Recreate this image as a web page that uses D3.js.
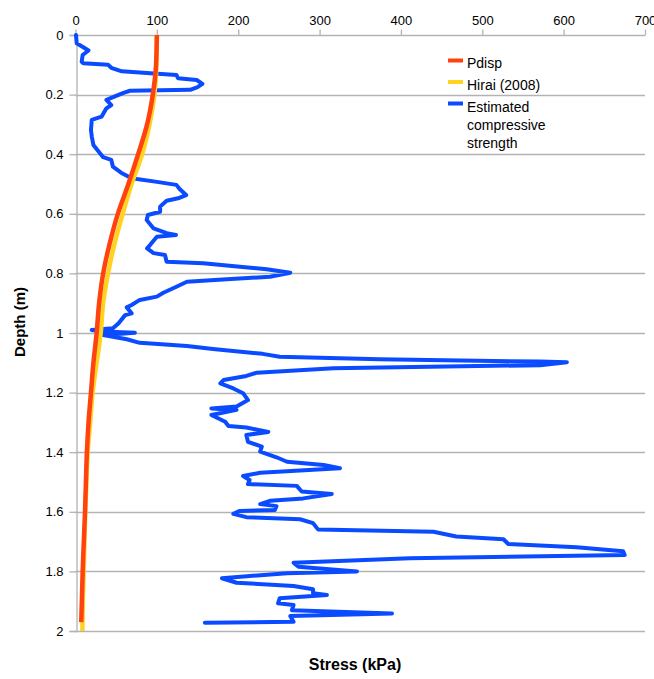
<!DOCTYPE html>
<html>
<head>
<meta charset="utf-8">
<script src="https://cdn.jsdelivr.net/npm/d3@7"></script>
<style>
  html, body { margin: 0; padding: 0; background: #fff; }
  text { font-family: "Liberation Sans", Arial, sans-serif; }
</style>
</head>
<body>
<svg id="chart" width="654" height="679"></svg>
<script>
// Depth profile of stress (kPa) against depth (m)
const xTicks = [0, 100, 200, 300, 400, 500, 600, 700];
const yTicks = [0, 0.2, 0.4, 0.6, 0.8, 1, 1.2, 1.4, 1.6, 1.8, 2];

const pdispDepth = [0, 0.1, 0.2, 0.3, 0.4, 0.5, 0.6, 0.7, 0.8, 0.9, 1.0, 1.1, 1.2, 1.3, 1.4, 1.5, 1.6, 1.7, 1.8, 1.9, 1.97];
const pdispValue = [100, 99, 95, 88, 77, 65, 52, 42, 34, 29, 26, 22, 19, 16, 14, 12.8, 11.7, 10.2, 8.8, 7.8, 7];

const hiraiDepth = [0, 0.1, 0.2, 0.3, 0.4, 0.5, 0.6, 0.7, 0.8, 0.9, 1.0, 1.1, 1.2, 1.3, 1.4, 1.5, 1.6, 1.7, 1.8, 1.9, 2.0];
const hiraiValue = [100, 99.5, 97, 91, 82, 69, 58, 48, 40, 34, 31, 26, 21, 18, 15, 13.5, 12, 11, 10, 9, 8.5];

const strengthDepth = [
  0, 0.028, 0.041, 0.052, 0.067, 0.09, 0.095, 0.1, 0.11, 0.122, 0.128, 0.134, 0.145, 0.151, 0.164, 0.175, 0.184, 0.187,
  0.194, 0.201, 0.218, 0.235, 0.246, 0.274, 0.285, 0.319, 0.341, 0.369, 0.41, 0.419, 0.442, 0.462, 0.481, 0.492, 0.503, 0.517,
  0.537, 0.548, 0.556, 0.576, 0.593, 0.604, 0.621, 0.649, 0.665, 0.671, 0.677, 0.705, 0.716, 0.732, 0.738, 0.761,
  0.766, 0.778, 0.786, 0.798, 0.811, 0.82, 0.828, 0.845, 0.865, 0.878, 0.889, 0.906, 0.914, 0.934, 0.94, 0.967,
  0.984, 0.99, 0.995, 0.999, 1.007, 1.021, 1.033, 1.044, 1.054, 1.07, 1.08, 1.088, 1.096, 1.098, 1.108, 1.118,
  1.133, 1.144, 1.158, 1.169, 1.186, 1.202, 1.225, 1.247, 1.253, 1.258, 1.275, 1.298, 1.312, 1.317, 1.332, 1.342,
  1.365, 1.381, 1.398, 1.417, 1.432, 1.443, 1.454, 1.469, 1.48, 1.493, 1.507, 1.513, 1.532, 1.54, 1.555, 1.563,
  1.574, 1.581, 1.594, 1.597, 1.607, 1.618, 1.625, 1.638, 1.659, 1.667, 1.683, 1.692, 1.708, 1.719, 1.732, 1.745,
  1.756, 1.771, 1.784, 1.8, 1.806, 1.823, 1.838, 1.849, 1.86, 1.873, 1.879, 1.89, 1.907, 1.913, 1.93, 1.941,
  1.95, 1.969, 1.972
];
const strengthValue = [
  0.6, 1.5, 9.6, 16, 8.8, 7.6, 9.6, 40, 44, 57, 92, 124, 126, 149, 156, 150, 141, 67,
  59, 53, 38, 44, 38, 32, 20, 19, 20, 22, 34, 44, 46, 56, 69, 98, 124, 128,
  136, 126, 112, 104, 104, 89, 87.5, 96, 112, 123.5, 100, 91.6, 88, 96, 110, 112,
  157, 202, 235, 264, 239, 186, 137, 124, 108, 100, 79, 69, 63, 69, 61, 53,
  46, 20, 34, 73, 34, 63, 79, 137, 169, 230, 251, 374, 571, 604, 571, 317,
  223, 210, 182, 178, 194, 206, 212, 198, 167, 198, 167, 184, 188, 210, 237, 210,
  212, 229, 227, 247, 260, 305, 325, 227, 206, 214, 212, 272, 278, 315, 280, 239,
  227, 247, 245, 202, 194, 210, 276, 292, 298, 440, 468, 526, 532, 616, 673, 675,
  411, 268, 274, 346, 260, 180, 198, 268, 292, 292, 309, 251, 249, 268, 266, 389,
  264, 268, 159
];

const legendLabels = [["Pdisp"], ["Hirai (2008)"], ["Estimated", "compressive", "strength"]];
const colors = ["#ff420e", "#ffd320", "#0a4bff"];

const svg = d3.select("#chart");
const margin = { left: 75.5, right: 9, top: 35, bottom: 48 };
const W = 654, H = 679;

const x = d3.scaleLinear().domain([0, 700]).range([margin.left, W - margin.right]);
const y = d3.scaleLinear().domain([0, 2]).range([margin.top, H - margin.bottom]);

const gridColor = "#b3b3b3";

// horizontal gridlines
svg.append("g").selectAll("line").data(yTicks).join("line")
  .attr("x1", x(0)).attr("x2", x(700))
  .attr("y1", d => Math.round(y(d)) + 0.5).attr("y2", d => Math.round(y(d)) + 0.5)
  .attr("stroke", gridColor).attr("stroke-width", 1.3);

// top axis
const xAxis = svg.append("g")
  .attr("transform", `translate(0,${Math.round(y(0)) + 0.5})`)
  .call(d3.axisTop(x).tickValues(xTicks).tickSize(6).tickPadding(5).tickFormat(d3.format("d")));
xAxis.select(".domain").remove();
xAxis.selectAll("line").attr("stroke", gridColor).attr("stroke-width", 1.3);
xAxis.selectAll("text").attr("font-size", 13).attr("fill", "#000")
  .attr("font-family", "'Liberation Sans', Arial, sans-serif");

// left axis
const yAxis = svg.append("g")
  .attr("transform", `translate(${Math.round(x(0)) + 0.5},0)`)
  .call(d3.axisLeft(y).tickValues(yTicks).tickSize(7).tickPadding(6).tickFormat(d => d3.format("")(+d.toFixed(1))));
yAxis.select(".domain").attr("stroke", gridColor).attr("stroke-width", 1.3);
yAxis.selectAll("line").attr("stroke", gridColor).attr("stroke-width", 1.3);
yAxis.selectAll("text").attr("font-size", 13).attr("fill", "#000")
  .attr("font-family", "'Liberation Sans', Arial, sans-serif");

// series
const line = d3.line().x(d => x(d[0])).y(d => y(d[1]));
const smooth = d3.line().x(d => x(d[0])).y(d => y(d[1])).curve(d3.curveMonotoneY);

svg.append("path")
  .datum(strengthValue.map((v, i) => [v, strengthDepth[i]]))
  .attr("d", line).attr("fill", "none").attr("stroke", colors[2])
  .attr("stroke-width", 4).attr("stroke-linejoin", "round").attr("stroke-linecap", "round");

svg.append("path")
  .datum(hiraiValue.map((v, i) => [v, hiraiDepth[i]]))
  .attr("d", smooth).attr("fill", "none").attr("stroke", colors[1])
  .attr("stroke-width", 4.5);

svg.append("path")
  .datum(pdispValue.map((v, i) => [v, pdispDepth[i]]))
  .attr("d", smooth).attr("fill", "none").attr("stroke", colors[0])
  .attr("stroke-width", 4.5);

// axis titles
svg.append("text").attr("x", 355).attr("y", 670)
  .attr("text-anchor", "middle").attr("font-size", 16).attr("font-weight", "bold")
  .text("Stress (kPa)");
svg.append("text")
  .attr("transform", `translate(25,322) rotate(-90)`)
  .attr("text-anchor", "middle").attr("font-size", 15).attr("font-weight", "bold")
  .text("Depth (m)");

// legend
const swatchY = [60.5, 82, 103.5];
const textY = [63, 85.5, 107];
const leg = svg.append("g");
legendLabels.forEach((lines, i) => {
  leg.append("rect").attr("x", 448).attr("y", swatchY[i] - 2).attr("width", 15).attr("height", 4)
    .attr("fill", colors[i]);
  lines.forEach((t, j) => {
    leg.append("text").attr("x", 467).attr("y", textY[i] + j * 18.2)
      .attr("dy", "0.35em").attr("font-size", 14).text(t);
  });
});
</script>
</body>
</html>
